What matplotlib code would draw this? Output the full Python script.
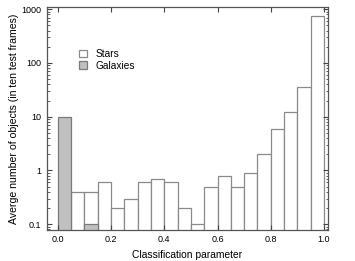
import numpy as np
import matplotlib.pyplot as plt
from matplotlib.ticker import LogLocator, NullFormatter, FixedLocator

plt.rcParams['font.family'] = ['Liberation Sans', 'DejaVu Sans']

# histogram bins of width 0.05 over the classification parameter
bin_left = np.arange(0.0, 1.0, 0.05)
stars = [0, 0.4, 0.4, 0.6, 0.2, 0.3, 0.6, 0.7, 0.6, 0.2,
         0.1, 0.5, 0.8, 0.5, 0.9, 2.0, 6.0, 12, 35, 750]
galaxies = [10, 0, 0.1, 0, 0, 0, 0, 0, 0, 0,
            0, 0, 0, 0, 0, 0, 0, 0, 0, 0]

fig = plt.figure(figsize=(3.55, 2.61), dpi=100)
ax = fig.add_axes([0.132, 0.119, 0.792, 0.854])

stars = np.array(stars, dtype=float)
galaxies = np.array(galaxies, dtype=float)
ms = stars > 0
mg = galaxies > 0
ax.bar(bin_left[ms], stars[ms], width=0.05, align='edge', color='white',
       edgecolor='#8a8a8a', linewidth=0.9, label='Stars')
ax.bar(bin_left[mg], galaxies[mg], width=0.05, align='edge', color='#c0c0c0',
       edgecolor='#7a7a7a', linewidth=0.9, label='Galaxies')

ax.set_yscale('log')
ax.set_ylim(0.078, 1100)
ax.set_xlim(-0.041, 1.015)

ax.xaxis.set_major_locator(FixedLocator([0.0, 0.2, 0.4, 0.6, 0.8, 1.0]))
ax.set_xticklabels(['0.0', '0.2', '0.4', '0.6', '0.8', '1.0'])
ax.yaxis.set_major_locator(FixedLocator([0.1, 1, 10, 100, 1000]))
ax.set_yticklabels(['0.1', '1', '10', '100', '1000'])
ax.yaxis.set_minor_locator(LogLocator(base=10, subs=np.arange(2, 10)))
ax.yaxis.set_minor_formatter(NullFormatter())

ax.tick_params(axis='both', which='major', direction='in', top=True, right=True,
               length=3.5, width=0.8, labelsize=6.5, pad=4, color='#444444')
ax.tick_params(axis='y', which='minor', direction='in', right=True,
               length=1.8, width=0.6, color='#444444')
for s in ax.spines.values():
    s.set_color('#555555')
    s.set_linewidth(0.9)

ax.set_xlabel('Classification parameter', fontsize=7.4, labelpad=4)
ax.set_ylabel('Averge number of objects (in ten test frames)', fontsize=7.6, labelpad=2)

ax.legend(frameon=False, loc='upper left', bbox_to_anchor=(0.1, 0.83),
          fontsize=7.3, handlelength=0.75, handleheight=0.7, handletextpad=0.9,
          labelspacing=0.15, borderaxespad=0)

plt.savefig('out.png', dpi=100)
